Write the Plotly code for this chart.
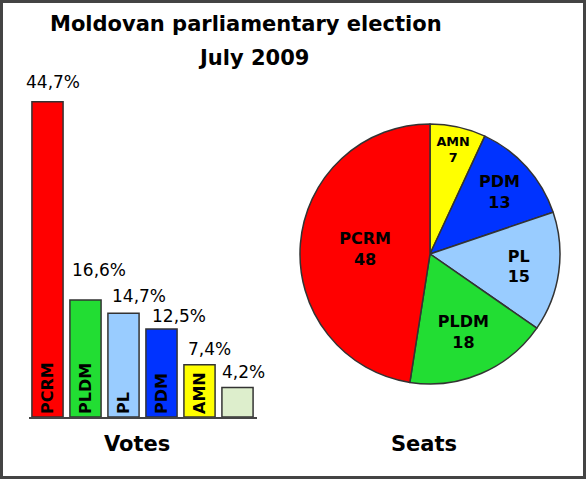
import plotly.graph_objects as go

# votes (%), left panel
parties = ["PCRM", "PLDM", "PL", "PDM", "AMN", "Others"]
votes = [44.7, 16.6, 14.7, 12.5, 7.4, 4.2]
vote_labels = ["44,7%", "16,6%", "14,7%", "12,5%", "7,4%", "4,2%"]
bar_text = ["PCRM", "PLDM", "PL", "PDM", "AMN", ""]
bar_colors = ["#ff0000", "#22dd33", "#99ccff", "#0033ff", "#ffff00", "#ddeecc"]

# seats, right panel (clockwise from 12 o'clock)
seat_parties = ["AMN", "PDM", "PL", "PLDM", "PCRM"]
seats = [7, 13, 15, 18, 48]
seat_colors = ["#ffff00", "#0033ff", "#99ccff", "#22dd33", "#ff0000"]

W, H = 587, 480
font = "DejaVu Sans"

# pixel nudges for the percentage labels over the bars
label_dx = [5, 13, 15, 17, 10, 6]
label_dy = [8, 18, 5, 1, 4, 3]

fig = go.Figure()

fig.add_trace(go.Bar(
    x=parties, y=votes,
    marker=dict(color=bar_colors, line=dict(color="#333333", width=1.5)),
    text=bar_text, textposition="inside", insidetextanchor="start",
    textangle=-90, constraintext="none",
    textfont=dict(family=font, size=16, color="black", weight="bold"),
    hoverinfo="x+y", showlegend=False,
))

fig.add_trace(go.Pie(
    labels=seat_parties, values=seats,
    marker=dict(colors=seat_colors, line=dict(color="#333333", width=1.5)),
    sort=False, direction="clockwise", rotation=0,
    texttemplate="%{label}<br>%{value}", textposition="inside",
    insidetextorientation="horizontal",
    textfont=dict(family=font, size=16, color="black", weight="bold"),
    domain=dict(x=[300 / W, 560 / W], y=[1 - 384 / H, 1 - 124 / H]),
    showlegend=False,
))

annotations = []
for p, v, lab, dx, dy in zip(parties, votes, vote_labels, label_dx, label_dy):
    annotations.append(dict(
        x=p, y=v, xref="x", yref="y", text=lab, showarrow=False,
        yanchor="bottom", yshift=dy, xshift=dx,
        font=dict(family=font, size=17, color="black"),
    ))

heads = [
    ("Moldovan parliamentary election", 246, 24),
    ("July 2009", 253, 58),
    ("Votes", 137, 444),
    ("Seats", 424, 444),
]
for txt, px, py in heads:
    annotations.append(dict(
        x=px / W, y=1 - py / H, xref="paper", yref="paper",
        xanchor="center", yanchor="middle", text=txt, showarrow=False,
        font=dict(family=font, size=21, color="black", weight="bold"),
    ))

fig.update_layout(
    width=W, height=H,
    margin=dict(l=0, r=0, t=0, b=0),
    paper_bgcolor="white", plot_bgcolor="white",
    bargap=0.18,
    xaxis=dict(domain=[28.5 / W, 256.5 / W], range=[-0.5, len(parties) - 0.5],
               showticklabels=False, showgrid=False, zeroline=False,
               showline=True, linecolor="#444444", linewidth=1.5, ticks=""),
    yaxis=dict(domain=[1 - 417 / H, 1 - 64.5 / H], range=[0, 50],
               showticklabels=False, showgrid=False, zeroline=False),
    annotations=annotations,
    shapes=[dict(type="rect", xref="paper", yref="paper",
                 x0=1.5 / W, x1=1 - 2.5 / W, y0=2.5 / H, y1=1 - 1.5 / H,
                 line=dict(color="#444444", width=3))],
)

fig.write_html(
    "out.html",
    config={"displayModeBar": False},
    post_script="document.body.style.margin='0';document.body.style.overflow='hidden';",
)
